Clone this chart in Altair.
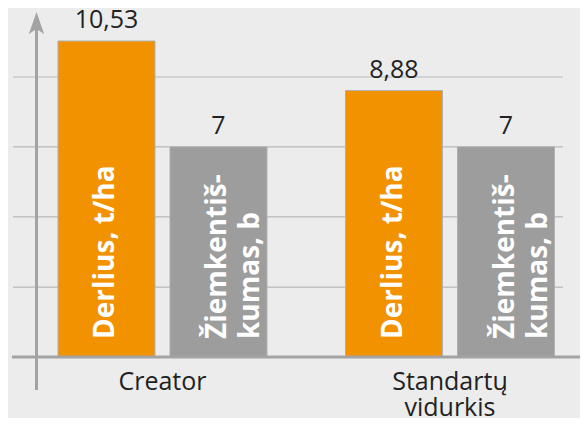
import altair as alt
import pandas as pd

groups = ["Creator", "Standartų\nvidurkis"]
series = ["Derlius, t/ha", "Žiemkentiš-\nkumas, b"]
derlius = [10.53, 8.88]
ziemkentiskumas = [7, 7]
grid_values = [2.33, 4.67, 7, 9.33]
baseline_value = [0]
colors = ["#f39200", "#9d9d9d"]

rows = []
for i, g in enumerate(groups):
    for s, vals in zip(series, [derlius, ziemkentiskumas]):
        v = vals[i]
        rows.append({"group": g, "series": s, "value": v,
                     "label": f"{v:g}".replace(".", ",")})
df = pd.DataFrame(rows)
grid_df = pd.DataFrame({"v": grid_values})
base_df = pd.DataFrame({"base": baseline_value})
axis_df = pd.DataFrame({"axis": ["y"]})
arrow_df = pd.DataFrame({"arrow": ["tip"]})

FONT = "Open Sans"
x_scale = alt.Scale(paddingInner=0.273, paddingOuter=0.1313, align=0.662)
xo_enc = alt.XOffset("series:N", sort=series,
                     scale=alt.Scale(paddingInner=0.134, paddingOuter=0))
y_scale = alt.Scale(domain=[0, 11.63], nice=False, zero=True)
x_axis = alt.Axis(domain=False, ticks=False, grid=False, labelAngle=0,
                  labelFont=FONT, labelFontSize=25, labelColor="#222222",
                  labelPadding=12, labelBaseline="top", labelLineHeight=26,
                  labelExpr="split(datum.label, '\\n')", title=None)

grid = alt.Chart(grid_df).mark_rule(color="#b9b9b9", strokeWidth=1.2).encode(
    y=alt.Y("v:Q", scale=y_scale, axis=None),
    x=alt.value(5), x2=alt.value(555))

bars = alt.Chart(df).mark_bar(stroke="#b0b0b0", strokeWidth=1).encode(
    x=alt.X("group:N", sort=groups, scale=x_scale, axis=x_axis),
    xOffset=xo_enc,
    y=alt.Y("value:Q", scale=y_scale, axis=None),
    color=alt.Color("series:N", sort=series,
                    scale=alt.Scale(domain=series, range=colors), legend=None))

baseline = alt.Chart(base_df).mark_rule(color="#a3a3a3", strokeWidth=3).encode(
    y=alt.Y("base:Q", scale=y_scale, axis=None), x=alt.value(4), x2=alt.value(572))

axis_line = alt.Chart(axis_df).mark_rule(color="#a3a3a3", strokeWidth=3).encode(
    x=alt.value(28.5), y=alt.value(18), y2=alt.value(382))

arrow = alt.Chart(arrow_df).mark_point(
    shape="M0,-1 L0.7,1 L0,0.55 L-0.7,1 Z", filled=True, color="#a3a3a3",
    opacity=1, size=480, strokeWidth=0).encode(
    x=alt.value(28.5), y=alt.value(15))

value_labels = alt.Chart(df).mark_text(
    font=FONT, fontSize=25, color="#222222", baseline="alphabetic", dy=-13).encode(
    x=alt.X("group:N", sort=groups), xOffset=xo_enc,
    y=alt.Y("value:Q", scale=y_scale, axis=None), text="label:N")

inbar = alt.Chart(df).mark_text(
    font=FONT, fontSize=28, fontWeight="bold", color="white", angle=270,
    align="left", baseline="middle", lineBreak="\n", lineHeight=33).encode(
    x=alt.X("group:N", sort=groups), xOffset=xo_enc,
    y=alt.value(331), text="series:N")

chart = alt.layer(grid, bars, baseline, axis_line, arrow, value_labels, inbar
                  ).properties(
    width=572, height=349, background="#ececec",
    autosize=alt.AutoSizeParams(type="none"),
    padding={"left": 0, "top": 0, "right": 0, "bottom": 61},
).configure_view(stroke=None)

chart.save("out.html", embed_options={"renderer": "svg", "actions": False})
